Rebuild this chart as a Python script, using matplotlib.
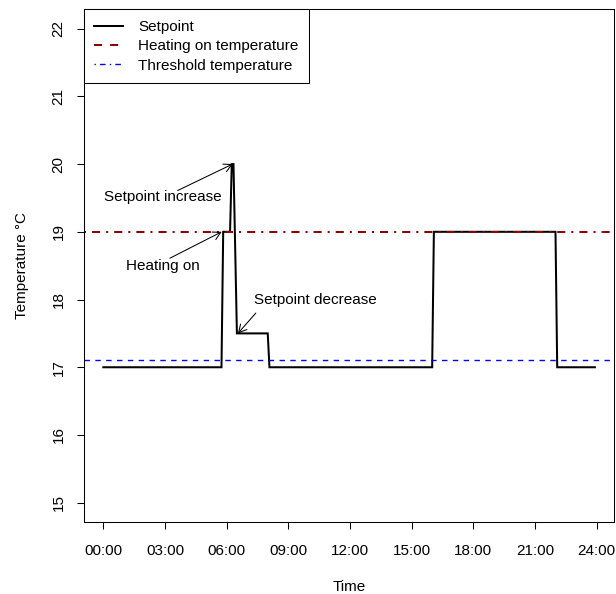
import numpy as np
import matplotlib.pyplot as plt
from matplotlib.lines import Line2D

plt.rcParams['font.family'] = ['Liberation Sans', 'DejaVu Sans']

# setpoint schedule (time of day, temperature)
times = ["00:00", "05:45", "05:50", "06:10", "06:15", "06:20", "06:30", "08:00",
         "08:05", "16:00", "16:05", "22:00", "22:05", "23:55"]
setpoint = [17, 17, 19, 19, 20, 20, 17.5, 17.5, 17, 17, 19, 19, 17, 17]
heating_on_temp = 19.0
threshold_temp = 17.1
tick_hours = [0, 3, 6, 9, 12, 15, 18, 21, 24]
tick_labels = ["00:00", "03:00", "06:00", "09:00", "12:00", "15:00", "18:00", "21:00", "24:00"]
y_ticks = [15, 16, 17, 18, 19, 20, 21, 22]

hours = np.array([int(t[:2]) + int(t[3:]) / 60 for t in times])

fig = plt.figure(figsize=(6.16, 5.94), dpi=100)
ax = fig.add_axes([0.1359, 0.1212, 0.8613, 0.8631])

ax.plot(hours, setpoint, color='black', lw=1.45, solid_joinstyle='miter')
ax.axhline(heating_on_temp, color='#8B0000', lw=1.45, dashes=(1, 3, 4, 3))
ax.axhline(threshold_temp, color='blue', lw=1.0, dashes=(3.9, 3.9))

# annotations
fs = 11
ax.text(2.91, 19.51, "Setpoint increase", ha='center', va='center', fontsize=fs)
ax.text(2.91, 18.50, "Heating on", ha='center', va='center', fontsize=fs)
ax.text(10.31, 18.0, "Setpoint decrease", ha='center', va='center', fontsize=fs)
arrow = dict(arrowstyle='->,head_length=0.55,head_width=0.3', lw=0.75, color='black',
             shrinkA=0, shrinkB=0)
ax.annotate("", xy=(6.29, 20.0), xytext=(3.62, 19.61), arrowprops=arrow)
ax.annotate("", xy=(5.76, 19.0), xytext=(3.24, 18.61), arrowprops=arrow)
ax.annotate("", xy=(6.55, 17.5), xytext=(7.42, 17.80), arrowprops=arrow)

ax.set_xlim(-0.953, 24.86)
ax.set_ylim(14.715, 22.285)
ax.set_xticks(tick_hours)
ax.set_xticklabels(tick_labels)
ax.set_yticks(y_ticks)
ax.set_yticklabels([str(v) for v in y_ticks], rotation=90, va='center')
ax.tick_params(direction='out', length=5, width=0.75, labelsize=fs, color='black')
ax.tick_params(axis='x', pad=11)
ax.tick_params(axis='y', pad=8)
for s in ax.spines.values():
    s.set_linewidth(0.75)

ax.set_xlabel("Time", fontsize=fs)
ax.xaxis.set_label_coords(0.5, -0.113)
ax.set_ylabel("Temperature °C", fontsize=fs)
ax.yaxis.set_label_coords(-0.104, 0.5)

# legend styles differ from the lines drawn, as in the original
handles = [Line2D([], [], color='black', lw=1.45),
           Line2D([], [], color='#8B0000', lw=1.45, dashes=(4, 4)),
           Line2D([], [], color='blue', lw=1.0, dashes=(1, 3, 4, 3))]
leg = ax.legend(handles, ["Setpoint", "Heating on temperature", "Threshold temperature"],
                loc='upper left', bbox_to_anchor=(0, 1), borderaxespad=0, fontsize=fs,
                fancybox=False, framealpha=1, edgecolor='black', handlelength=1.9,
                labelspacing=0.35, handletextpad=0.95, borderpad=0.7)
leg.get_frame().set_linewidth(0.75)

plt.savefig("out.png", dpi=100)
